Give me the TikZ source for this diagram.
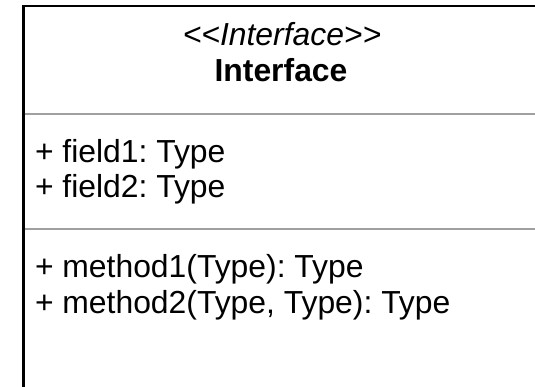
\documentclass[tikz,border=0pt]{standalone}
\usepackage{fontspec}
\setmainfont[Ligatures=NoCommon]{Liberation Sans}
\frenchspacing
\definecolor{sepgray}{HTML}{A0A0A0}
\tikzset{
  umltext/.style={inner sep=0pt, outer sep=0pt, font=\fontsize{23.9}{28}\selectfont},
  member/.style={umltext, anchor=base west},
  heading/.style={umltext, anchor=base},
  frame/.style={draw=black, line width=1.9pt, line join=miter},
  divider/.style={draw=sepgray, line width=1.5pt}
}
\begin{document}
\begin{tikzpicture}[x=0.75pt, y=-0.75pt]
  \useasboundingbox[fill=white] (0,0) rectangle (535,386);
  % class outline: top edge and left edge of the box
  \coordinate (topright) at (536,6);
  \coordinate (corner) at (23.3,6);
  \coordinate (bottomleft) at (23.3,387);
  \path[frame] (topright) -- (corner) -- (bottomleft);
  % compartment dividers
  \coordinate (d1l) at (24.5,113.5);
  \coordinate (d1r) at (536,113.5);
  \coordinate (d2l) at (24.5,228.5);
  \coordinate (d2r) at (536,228.5);
  \path[divider] (d1l) -- (d1r);
  \path[divider] (d2l) -- (d2r);
  % name compartment
  \node[heading, font=\fontsize{23.9}{28}\selectfont\itshape] (stereo) at (282,45) {\textless{}\textless{}Interface\textgreater{}\textgreater{}};
  \node[heading, font=\fontsize{23.9}{28}\selectfont\bfseries] (name) at (281,81) {Interface};
  % attributes
  \node[member] (f1) at (35,162) {+ field1: Type};
  \node[member] (f2) at (35,197.5) {+ field2: Type};
  % operations
  \node[member] (m1) at (35,277) {+ method1(Type): Type};
  \node[member] (m2) at (35,313) {+ method2(Type, Type): Type};
\end{tikzpicture}
\end{document}
